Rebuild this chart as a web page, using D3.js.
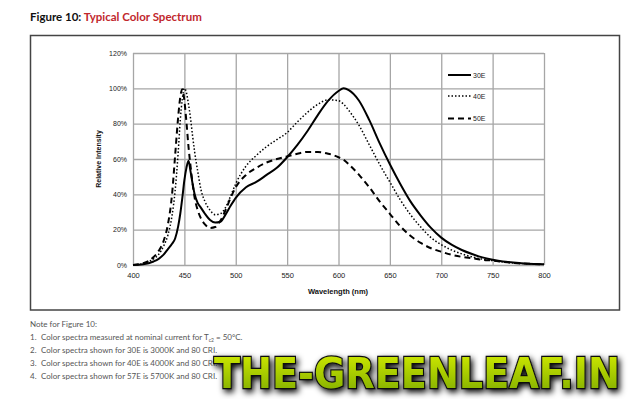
<!DOCTYPE html>
<html>
<head>
<meta charset="utf-8">
<script src="https://cdn.jsdelivr.net/npm/d3@7"></script>
<style>
  body { margin: 0; background: #fff; }
  svg { display: block; }
</style>
</head>
<body>
<svg width="636" height="399"></svg>
<script>
// wavelength samples (nm) and relative intensity (%) per series
const wavelengths = [400, 410, 420, 425, 430, 434, 438, 441, 444, 446, 448, 450, 452, 454, 456, 458, 460, 463, 466, 470,
  475, 480, 485, 490, 495, 500, 510, 520, 530, 540, 550, 560, 570, 580, 590, 600, 605, 610, 620, 630,
  640, 650, 660, 670, 680, 690, 700, 710, 720, 730, 740, 750, 760, 770, 780, 790, 800]
const e30 = [0, 0.4, 2, 3.5, 6, 9, 12, 15, 22, 29, 38, 48, 55, 59, 53, 46, 40, 35, 32.5, 29,
  25.5, 24, 24.5, 28.5, 33.5, 38, 44, 47, 51, 55, 61, 68, 76, 85, 93, 98.5, 100, 99, 93, 82,
  69, 57, 46, 36, 28, 21, 15.5, 11.5, 8.5, 6.2, 4.3, 3, 2, 1.4, 0.9, 0.6, 0.4]
const e40 = [0, 0.8, 3.5, 6, 11, 17, 28, 42, 64, 82, 94, 100, 97.5, 91, 83, 73, 64, 53, 43, 36,
  31, 28.5, 29, 32.5, 39, 46, 56, 62, 67, 71, 75, 81, 86.5, 91, 93.5, 93, 91, 87.5, 79, 68,
  57, 47, 37, 28.5, 21.5, 15.5, 11.5, 8.5, 6.3, 4.6, 3.3, 2.5, 1.8, 1.2, 0.8, 0.6, 0.4]
const e50 = [0, 1, 4.5, 8, 14, 23, 40, 62, 84, 95, 99.5, 93, 81, 67, 56, 46, 38, 31, 26.5, 23,
  21, 21.5, 25, 31, 38, 44, 51, 55, 58, 60, 61.5, 63, 64, 64, 63, 61, 59.5, 57, 51, 44,
  36, 29, 22, 16.5, 12.5, 9.5, 7.5, 5.8, 4.6, 3.8, 3, 2.5, 1.8, 1.2, 0.8, 0.6, 0.4]

const seriesNames = ['30E', '40E', '50E']
const xTicks = [400, 450, 500, 550, 600, 650, 700, 750, 800]
const yTicks = [0, 20, 40, 60, 80, 100, 120]
const notes = [
  'Color spectra measured at nominal current for T',
  'Color spectra shown for 30E is 3000K and 80 CRI.',
  'Color spectra shown for 40E is 4000K and 80 CRI.',
  'Color spectra shown for 57E is 5700K and 80 CRI.'
]

const svg = d3.select('svg')

// title
const title = svg.append('text')
  .attr('x', 30)
  .attr('y', 21)
  .attr('font-family', 'Lato, sans-serif')
  .attr('font-weight', 'bold')
  .attr('font-size', 11.5)
title.append('tspan').attr('fill', '#111').text('Figure 10: ')
title.append('tspan').attr('fill', '#c1272d').text('Typical Color Spectrum')

// outer frame
svg.append('rect')
  .attr('x', 30.5).attr('y', 35.5)
  .attr('width', 589).attr('height', 274.5)
  .attr('fill', 'none')
  .attr('stroke', '#444')
  .attr('stroke-width', 1.5)

const x = d3.scaleLinear().domain([400, 800]).range([133, 544])
const y = d3.scaleLinear().domain([0, 120]).range([265, 53])

const gx = svg.append('g')
  .attr('transform', 'translate(0,265)')
  .call(d3.axisBottom(x).tickValues(xTicks).tickSize(-(265 - 53)).tickSizeOuter(0))
gx.select('.domain').remove()
gx.selectAll('line').attr('stroke', '#a6a6a6').attr('stroke-width', 1.3)
gx.selectAll('text')
  .attr('dy', 10)
  .attr('fill', '#222')
  .attr('font-family', 'Liberation Sans, sans-serif')
  .attr('font-size', 7.5)

const gy = svg.append('g')
  .attr('transform', 'translate(133,0)')
  .call(d3.axisLeft(y).tickValues(yTicks).tickSize(-(544 - 133)).tickSizeOuter(0).tickFormat(d => d + '%'))
gy.select('.domain').remove()
gy.selectAll('line').attr('stroke', '#a6a6a6').attr('stroke-width', 1.3)
gy.selectAll('text')
  .attr('x', -6)
  .attr('fill', '#222')
  .attr('font-family', 'Liberation Sans, sans-serif')
  .attr('font-size', 7)

svg.append('text')
  .attr('x', 338).attr('y', 294)
  .attr('text-anchor', 'middle')
  .attr('font-family', 'Liberation Sans, sans-serif')
  .attr('font-weight', 'bold')
  .attr('font-size', 7.5)
  .attr('fill', '#111')
  .text('Wavelength (nm)')

svg.append('text')
  .attr('transform', 'translate(101,159) rotate(-90)')
  .attr('text-anchor', 'middle')
  .attr('font-family', 'Liberation Sans, sans-serif')
  .attr('font-weight', 'bold')
  .attr('font-size', 7)
  .attr('fill', '#111')
  .text('Relative Intensity')

// curves
const styles = [
  { width: 2, dash: null },
  { width: 1.5, dash: '1.5,2' },
  { width: 2, dash: '6,4' }
]
const values = [e30, e40, e50]

const line = d3.line()
  .x(d => x(d[0]))
  .y(d => y(d[1]))
  .curve(d3.curveMonotoneX)

values.forEach((vals, i) => {
  svg.append('path')
    .datum(wavelengths.map((w, j) => [w, vals[j]]))
    .attr('d', line)
    .attr('fill', 'none')
    .attr('stroke', '#000')
    .attr('stroke-width', styles[i].width)
    .attr('stroke-dasharray', styles[i].dash)
})

// legend
const legendY = [75, 96, 118.5]
seriesNames.forEach((name, i) => {
  svg.append('line')
    .attr('x1', 448).attr('x2', 471)
    .attr('y1', legendY[i]).attr('y2', legendY[i])
    .attr('stroke', '#000')
    .attr('stroke-width', styles[i].width)
    .attr('stroke-dasharray', styles[i].dash)
  svg.append('text')
    .attr('x', 473).attr('y', legendY[i] + 2.5)
    .attr('font-family', 'Liberation Sans, sans-serif')
    .attr('font-size', 7)
    .attr('fill', '#222')
    .text(name)
})

// notes
const noteFont = 'Lato, sans-serif'
svg.append('text')
  .attr('x', 30).attr('y', 327)
  .attr('font-family', noteFont)
  .attr('font-size', 8)
  .attr('fill', '#555')
  .text('Note for Figure 10:')

notes.forEach((t, i) => {
  const yy = 340 + i * 13
  svg.append('text')
    .attr('x', 30).attr('y', yy)
    .attr('font-family', noteFont).attr('font-size', 8).attr('fill', '#555')
    .text((i + 1) + '.')
  const tx = svg.append('text')
    .attr('x', 41).attr('y', yy)
    .attr('font-family', noteFont).attr('font-size', 8).attr('fill', '#555')
    .text(t)
  if (i === 0) {
    tx.append('tspan').attr('dy', 2).attr('font-size', 5).text('c2')
    tx.append('tspan').attr('dy', -2).text(' = 50°C.')
  }
})

// watermark
const defs = svg.append('defs')
const grad = defs.append('linearGradient')
  .attr('id', 'wm').attr('x1', 0).attr('x2', 0).attr('y1', 0).attr('y2', 1)
grad.append('stop').attr('offset', '0%').attr('stop-color', '#d8f000')
grad.append('stop').attr('offset', '100%').attr('stop-color', '#7aa800')
const shadow = defs.append('filter').attr('id', 'sh').attr('x', '-10%').attr('y', '-30%').attr('width', '120%').attr('height', '160%')
shadow.append('feGaussianBlur').attr('in', 'SourceAlpha').attr('stdDeviation', 3).attr('result', 'b')
shadow.append('feOffset').attr('in', 'b').attr('dx', 2).attr('dy', 3).attr('result', 'o')
const merge = shadow.append('feMerge')
merge.append('feMergeNode').attr('in', 'o')
merge.append('feMergeNode').attr('in', 'SourceGraphic')

svg.append('text')
  .attr('x', 214).attr('y', 388)
  .attr('textLength', 406)
  .attr('lengthAdjust', 'spacingAndGlyphs')
  .attr('font-family', 'DejaVu Sans, sans-serif')
  .attr('font-weight', 'bold')
  .attr('font-size', 43)
  .attr('fill', 'url(#wm)')
  .attr('stroke', '#111')
  .attr('stroke-width', 2.5)
  .attr('paint-order', 'stroke')
  .attr('filter', 'url(#sh)')
  .text('THE-GREENLEAF.IN')
</script>
</body>
</html>
